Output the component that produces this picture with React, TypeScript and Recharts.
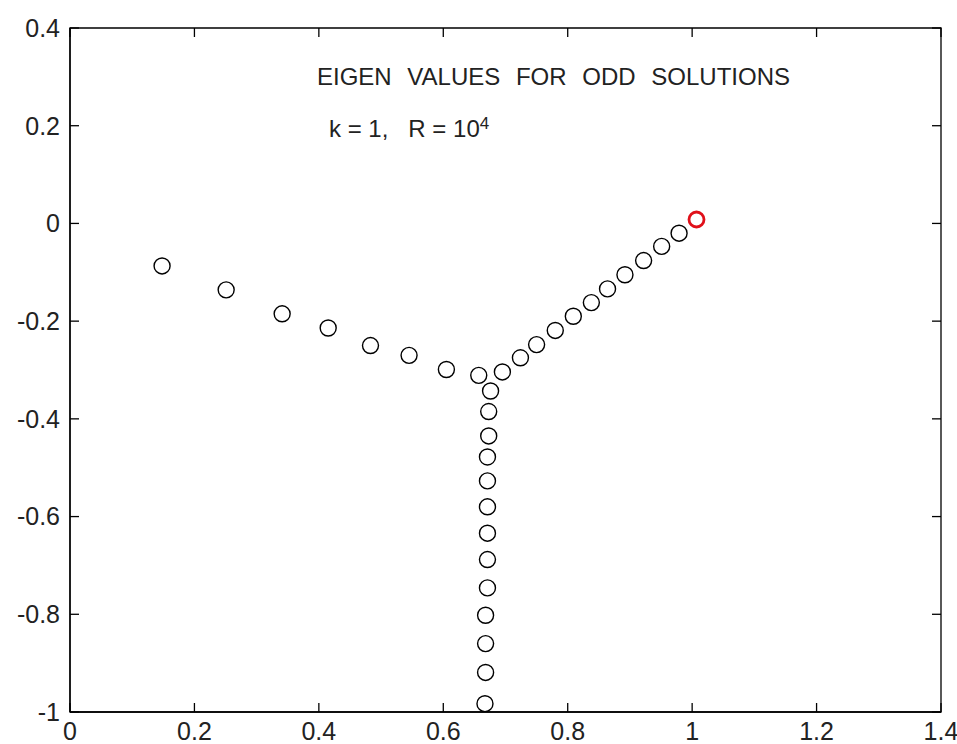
import React from 'react';
import { ScatterChart, Scatter, XAxis, YAxis, ReferenceLine, ReferenceArea } from 'recharts';

// real / imaginary parts of the odd-solution eigenvalues (black circles)
const reValues = [
  0.148, 0.251, 0.341, 0.415, 0.483, 0.545, 0.605, 0.657,
  0.695, 0.724, 0.750, 0.780, 0.809, 0.838, 0.864, 0.892, 0.922, 0.951, 0.979,
  0.676, 0.673, 0.673, 0.671, 0.671, 0.671, 0.671, 0.671, 0.671, 0.668, 0.668, 0.668, 0.667,
];
const imValues = [
  -0.087, -0.136, -0.185, -0.214, -0.250, -0.270, -0.299, -0.311,
  -0.304, -0.275, -0.248, -0.219, -0.190, -0.162, -0.134, -0.105, -0.076, -0.047, -0.020,
  -0.343, -0.385, -0.435, -0.478, -0.527, -0.580, -0.634, -0.688, -0.746, -0.802, -0.860, -0.919, -0.983,
];

// least stable eigenvalue (red circle)
const leadRe = [1.007];
const leadIm = [0.008];

const xTicks = [0, 0.2, 0.4, 0.6, 0.8, 1, 1.2, 1.4];
const yTicks = [-1, -0.8, -0.6, -0.4, -0.2, 0, 0.2, 0.4];

const eigenData = reValues.map((re, i) => ({ re, im: imValues[i] }));
const leadData = leadRe.map((re, i) => ({ re, im: leadIm[i] }));

const FONT = '"Liberation Sans", Arial, sans-serif';
const X_TICK_LEN = 0.0145;
const Y_TICK_LEN = 0.0184;

const BlackCircle = (props: any) => (
  <circle cx={props.cx} cy={props.cy} r={8} fill="none" stroke="#000" strokeWidth={1.4} />
);

const RedCircle = (props: any) => (
  <circle cx={props.cx} cy={props.cy} r={7.5} fill="#fff" stroke="#e0101a" strokeWidth={2.8} />
);

const tickStyle = { fontSize: 25, fontFamily: FONT, fill: '#222' };

export default function App() {
  return (
    <div style={{ position: 'absolute', left: 0, top: 0, width: 957, height: 744, background: '#fff' }}>
      <ScatterChart width={957} height={744} margin={{ top: 28, right: 16, bottom: 0, left: 0 }}>
        <XAxis
          type="number"
          dataKey="re"
          domain={[0, 1.4]}
          ticks={xTicks}
          allowDataOverflow
          tickLine={false}
          tickSize={0}
          tickMargin={10}
          height={32}
          axisLine={{ stroke: '#000', strokeWidth: 1.3 }}
          tick={tickStyle}
          tickFormatter={(v: number) => String(v)}
        />
        <YAxis
          type="number"
          dataKey="im"
          domain={[-1, 0.4]}
          ticks={yTicks}
          allowDataOverflow
          tickLine={false}
          tickSize={0}
          tickMargin={10}
          width={70}
          axisLine={{ stroke: '#000', strokeWidth: 1.3 }}
          tick={tickStyle}
          tickFormatter={(v: number) => String(v)}
        />
        <ReferenceArea x1={0} x2={1.4} y1={-1} y2={0.4} fill="none" stroke="#000" strokeWidth={1.3} />
        {xTicks.map((t) => (
          <ReferenceLine key={`xb-${t}`} segment={[{ x: t, y: -1 }, { x: t, y: -1 + Y_TICK_LEN }]} stroke="#000" strokeWidth={1.3} />
        ))}
        {xTicks.map((t) => (
          <ReferenceLine key={`xt-${t}`} segment={[{ x: t, y: 0.4 }, { x: t, y: 0.4 - Y_TICK_LEN }]} stroke="#000" strokeWidth={1.3} />
        ))}
        {yTicks.map((t) => (
          <ReferenceLine key={`yl-${t}`} segment={[{ x: 0, y: t }, { x: X_TICK_LEN, y: t }]} stroke="#000" strokeWidth={1.3} />
        ))}
        {yTicks.map((t) => (
          <ReferenceLine key={`yr-${t}`} segment={[{ x: 1.4, y: t }, { x: 1.4 - X_TICK_LEN, y: t }]} stroke="#000" strokeWidth={1.3} />
        ))}
        <Scatter data={eigenData} shape={BlackCircle} isAnimationActive={false} />
        <Scatter data={leadData} shape={RedCircle} isAnimationActive={false} />
      </ScatterChart>
      <svg width={957} height={744} style={{ position: 'absolute', left: 0, top: 0, pointerEvents: 'none' }}>
        <text x={317} y={85} fontSize={24} fontFamily={FONT} fill="#222" wordSpacing={9}>
          EIGEN VALUES FOR ODD SOLUTIONS
        </text>
        <text x={329} y={137} fontSize={24} fontFamily={FONT} fill="#222" xmlSpace="preserve">
          k = 1,   R = 10<tspan fontSize={17} dy={-8}>4</tspan>
        </text>
      </svg>
    </div>
  );
}
